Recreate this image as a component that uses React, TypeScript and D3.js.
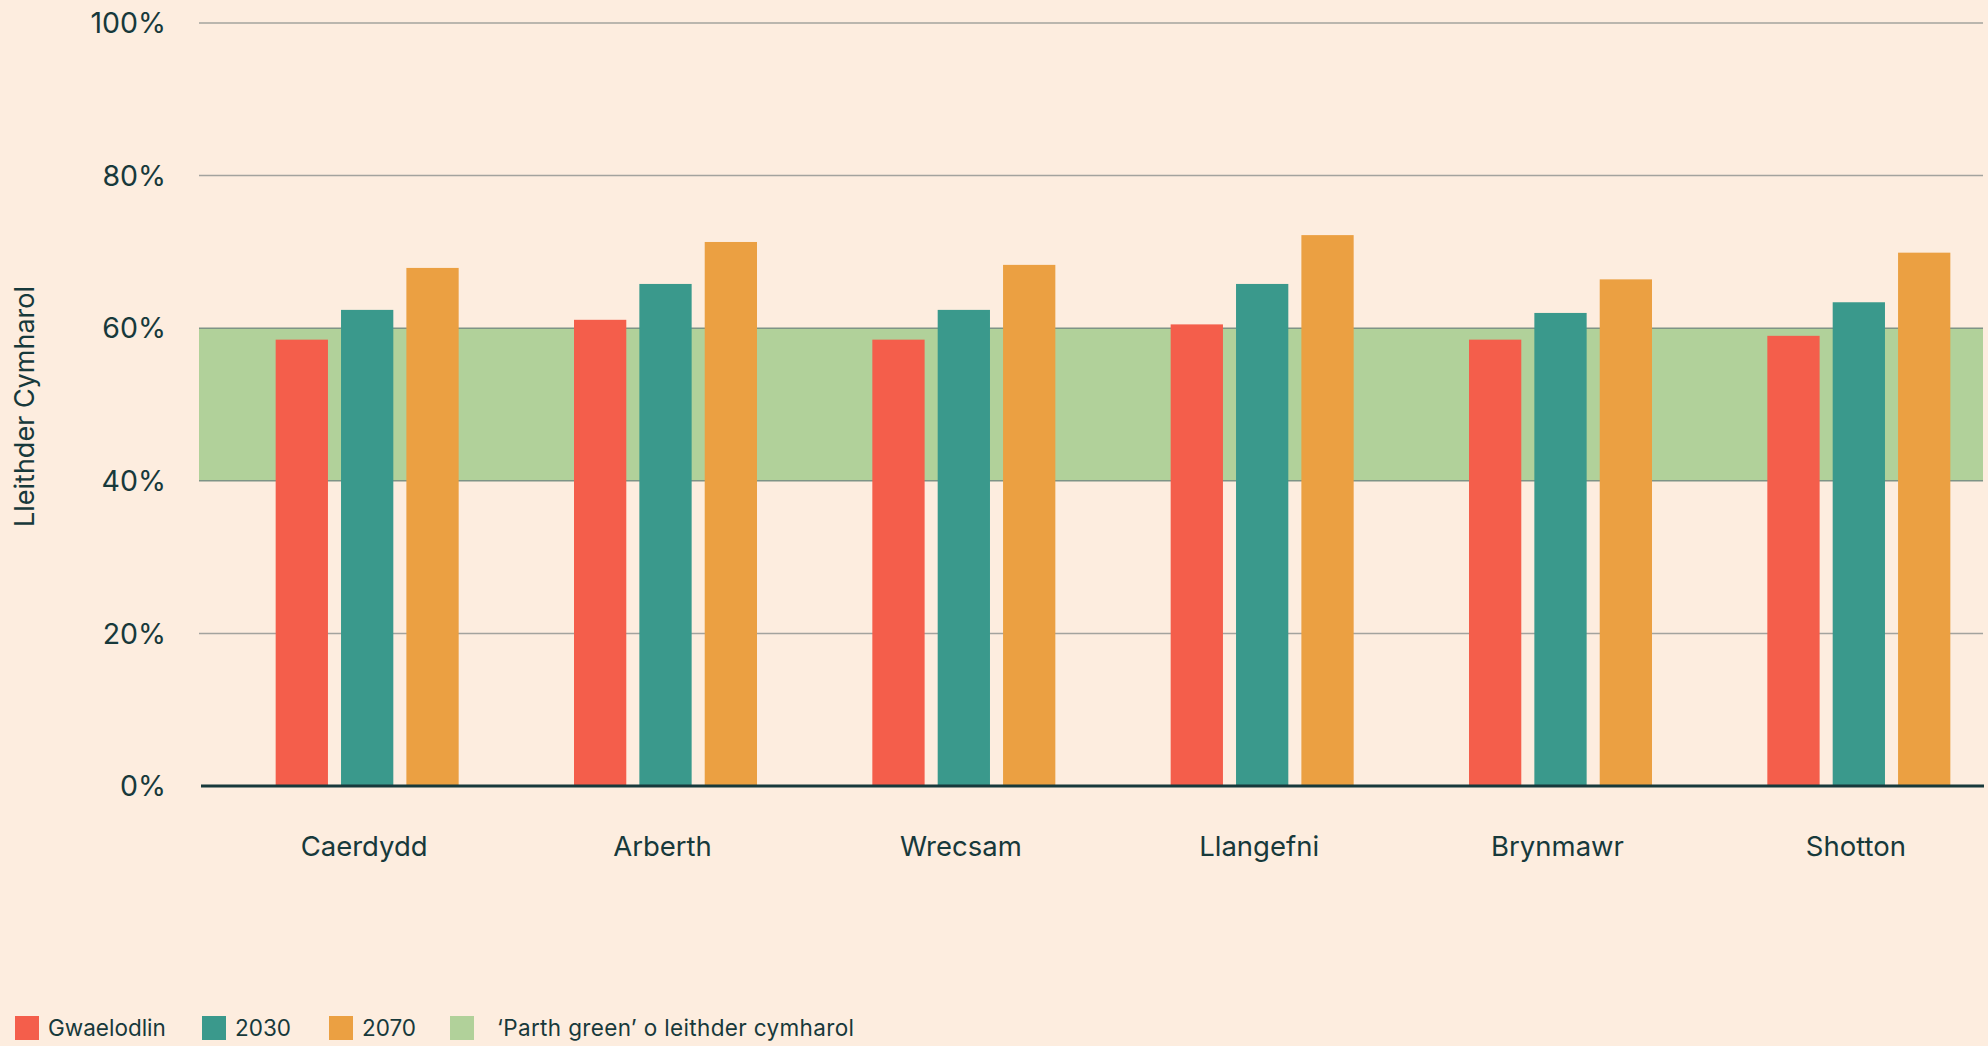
import React from 'react';
import * as d3 from 'd3';

// Lleithder cymharol per town, three scenarios
const cities = ['Caerdydd', 'Arberth', 'Wrecsam', 'Llangefni', 'Brynmawr', 'Shotton'];
const seriesKeys = ['Gwaelodlin', '2030', '2070'];
const gwaelodlin = [58.5, 61.1, 58.5, 60.5, 58.5, 59.0];
const y2030 = [62.4, 65.8, 62.4, 65.8, 62.0, 63.4];
const y2070 = [67.9, 71.3, 68.3, 72.2, 66.4, 69.9];
const greenZone = [40, 60];
const yTicks = [0, 20, 40, 60, 80, 100];

const colors = ['#F45E4B', '#3A998C', '#EBA042'];
const greenColor = '#B1D19A';
const textColor = '#17393B';
const bg = '#FDEDDF';
const font = 'Inter, "Liberation Sans", sans-serif';

const width = 1988;
const height = 1046;
const plotLeft = 199;
const plotRight = 1983;

const App = () => {
  const values = [gwaelodlin, y2030, y2070];

  const y = d3.scaleLinear().domain([0, 100]).range([786, 23]);
  // groups sit a bit right of centre in the original
  const x0 = d3.scaleBand().domain(cities).range([218, 2008]);
  const x1 = d3.scaleBand().domain(seriesKeys).range([0, 183]).paddingInner(0.2);
  const groupOffset = (x0.bandwidth() - 183) / 2;

  const legend = [
    { label: 'Gwaelodlin', color: colors[0], x: 15 },
    { label: '2030', color: colors[1], x: 202 },
    { label: '2070', color: colors[2], x: 329 },
    { label: '\u2018Parth green\u2019 o leithder cymharol', color: greenColor, x: 450, gap: 47 },
  ];

  return (
    <svg width={width} height={height} style={{ position: 'absolute', left: 0, top: 0, background: bg }}
      fontFamily={font}>
      <rect width={width} height={height} fill={bg} />

      {/* green zone */}
      <rect x={plotLeft} width={plotRight - plotLeft} y={y(greenZone[1])}
        height={y(greenZone[0]) - y(greenZone[1])} fill={greenColor} />

      {/* grid + ticks */}
      {yTicks.map(t => (
        <g key={t}>
          {t > 0 && (
            <line x1={plotLeft} x2={plotRight} y1={y(t)} y2={y(t)}
              stroke={t === 40 || t === 60 ? '#7E9486' : '#A3A39E'} strokeWidth={1.5} />
          )}
          <text x={166} y={y(t)} dy="0.36em" textAnchor="end" fontSize={28.5} fill={textColor}>{t}%</text>
        </g>
      ))}

      {/* bars */}
      {cities.map((c, i) => (
        <g key={c} transform={`translate(${x0(c)! + groupOffset},0)`}>
          {seriesKeys.map((k, j) => (
            <rect key={k} x={x1(k)} width={x1.bandwidth()} y={y(values[j][i])}
              height={y(0) - y(values[j][i])} fill={colors[j]} />
          ))}
        </g>
      ))}

      {/* baseline */}
      <line x1={plotLeft + 2} x2={plotRight + 1} y1={y(0)} y2={y(0)} stroke={textColor} strokeWidth={3} />

      {/* category labels */}
      {cities.map(c => (
        <text key={c} x={x0(c)! + x0.bandwidth() / 2 - 3} y={856} textAnchor="middle" fontSize={27.5} fill={textColor}>{c}</text>
      ))}

      {/* y title */}
      <text transform={`translate(34,${(y(0) + y(100)) / 2 + 2}) rotate(-90)`} textAnchor="middle"
        fontSize={27} fill={textColor}>Lleithder Cymharol</text>

      {/* legend */}
      {legend.map(l => (
        <g key={l.label} transform={`translate(${l.x},1016)`}>
          <rect width={24} height={24} fill={l.color} />
          <text x={l.gap ?? 33} y={12} dy="0.36em" fontSize={22.5} fill={textColor}
            textLength={l.gap ? 357 : undefined}>{l.label}</text>
        </g>
      ))}
    </svg>
  );
};

export default App;
